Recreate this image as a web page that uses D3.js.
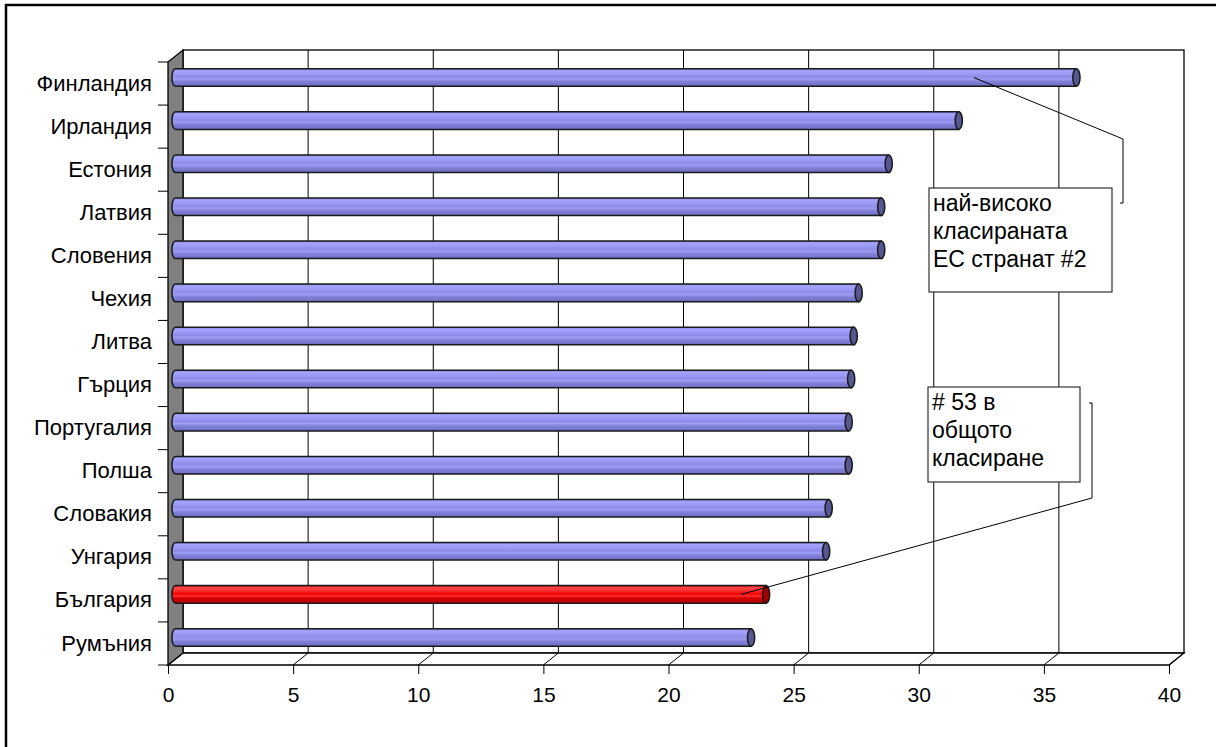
<!DOCTYPE html>
<html>
<head>
<meta charset="utf-8">
<script src="https://cdn.jsdelivr.net/npm/d3@7"></script>
<style>
  html, body { margin: 0; padding: 0; background: #fff; }
  svg { display: block; font-family: "Liberation Sans", Arial, sans-serif; }
</style>
</head>
<body>
<svg id="chart" width="1216" height="747"></svg>
<script>
// Countries, top to bottom
const countries = ["Финландия", "Ирландия", "Естония", "Латвия", "Словения", "Чехия", "Литва",
  "Гърция", "Португалия", "Полша", "Словакия", "Унгария", "България", "Румъния"];
// Score per country
const scores = [36.0, 31.3, 28.5, 28.2, 28.2, 27.3, 27.1, 27.0, 26.9, 26.9, 26.1, 26.0, 23.6, 23.0];
// Highlighted country
const highlight = ["България"];
// Axis ticks
const xTicks = [0, 5, 10, 15, 20, 25, 30, 35, 40];
// Callout texts
const noteTop = ["най-високо", "класираната", "ЕС странат #2"];
const noteBottom = ["# 53 в", "общото", "класиране"];

const svg = d3.select("#chart");

// Layout of the 3D box: front plane plus a depth offset
const depthX = 15, depthY = -12;
const frontTop = 62, frontBottom = 665;
const x = d3.scaleLinear().domain([0, 40]).range([168, 1169]);
const y = d3.scaleBand().domain(countries).range([frontTop, frontBottom]);
const x0 = x(0), x40 = x(40);

// Outer chart frame (only top and left edges fall inside the page)
svg.append("rect").attr("x", 6).attr("y", 5).attr("width", 1300).attr("height", 800)
  .attr("fill", "#fff").attr("stroke", "#000").attr("stroke-width", 2.5);

// Back wall
svg.append("rect")
  .attr("x", x0 + depthX).attr("y", frontTop + depthY)
  .attr("width", x40 - x0).attr("height", frontBottom - frontTop)
  .attr("fill", "#fff").attr("stroke", "#000").attr("stroke-width", 1.3);

// Gridlines on the back wall
svg.append("g").selectAll("line").data(xTicks.slice(1, -1)).join("line")
  .attr("x1", d => x(d) + depthX).attr("x2", d => x(d) + depthX)
  .attr("y1", frontTop + depthY).attr("y2", frontBottom + depthY)
  .attr("stroke", "#000").attr("stroke-width", 1);

// Floor
const floor = svg.append("g");
floor.append("path")
  .attr("d", `M${x0},${frontBottom} L${x0 + depthX},${frontBottom + depthY} L${x40 + depthX},${frontBottom + depthY} L${x40},${frontBottom} Z`)
  .attr("fill", "#fff").attr("stroke", "#000").attr("stroke-width", 1.3);
floor.selectAll("line.depth").data(xTicks).join("line").attr("class", "depth")
  .attr("x1", d => x(d)).attr("y1", frontBottom)
  .attr("x2", d => x(d) + depthX).attr("y2", frontBottom + depthY)
  .attr("stroke", "#000").attr("stroke-width", 1);

// Left side wall (gray)
svg.append("path")
  .attr("d", `M${x0},${frontTop} L${x0 + depthX},${frontTop + depthY} L${x0 + depthX},${frontBottom + depthY} L${x0},${frontBottom} Z`)
  .attr("fill", "#808080").attr("stroke", "#000").attr("stroke-width", 1.3);

// X axis along the front edge of the floor
const xAxis = d3.axisBottom(x).tickValues(xTicks).tickSize(9).tickPadding(13).tickFormat(d3.format("d"));
const gx = svg.append("g").attr("transform", `translate(0,${frontBottom})`).call(xAxis);
gx.select(".domain").remove();
gx.selectAll(".tick line").attr("stroke", "#000");
gx.selectAll(".tick text").attr("font-size", 21).attr("font-family", "Liberation Sans, Arial, sans-serif").attr("fill", "#000");

// Y axis on the front edge of the side wall
const yAxis = d3.axisLeft(y).tickSize(0).tickPadding(16);
const gy = svg.append("g").attr("transform", `translate(${x0},0)`).call(yAxis);
gy.select(".domain").remove();
gy.selectAll(".tick text").attr("font-size", 22).attr("font-family", "Liberation Sans, Arial, sans-serif").attr("fill", "#000");
// Ticks between categories
const bounds = countries.map(c => y(c)).concat([frontBottom]);
svg.append("g").selectAll("line").data(bounds).join("line")
  .attr("x1", x0 - 10).attr("x2", x0).attr("y1", d => d).attr("y2", d => d)
  .attr("stroke", "#000").attr("stroke-width", 1);

// Cylinder shading
const defs = svg.append("defs");
function cylGrad(id, stops) {
  const g = defs.append("linearGradient").attr("id", id).attr("x1", 0).attr("y1", 0).attr("x2", 0).attr("y2", 1);
  stops.forEach(([o, c]) => g.append("stop").attr("offset", o).attr("stop-color", c));
}
cylGrad("blueCyl", [[0, "#8282dc"], [0.12, "#a4a4ff"], [0.3, "#9a9af6"], [0.48, "#8c8ce6"], [0.58, "#9e9ef4"], [0.72, "#8282da"], [1, "#6c6cc2"]]);
cylGrad("redCyl", [[0, "#d80000"], [0.12, "#ff4a4a"], [0.3, "#ff2a2a"], [0.48, "#ee0000"], [0.58, "#ff3030"], [0.72, "#d40000"], [1, "#b40000"]]);

const bars = countries.map((c, i) => ({ name: c, value: scores[i], hi: highlight.includes(c) }));
const r = 8.8, capRx = 3.6;
const barG = svg.append("g");
bars.forEach(d => {
  const cy = y(d.name) + y.bandwidth() / 2 + depthY / 2;
  const xl = x(0) + depthX / 2, xr = x(d.value) + depthX / 2;
  barG.append("path")
    .attr("d", `M${xl},${cy - r} L${xr},${cy - r} L${xr},${cy + r} L${xl},${cy + r} A${capRx},${r} 0 0 1 ${xl},${cy - r} Z`)
    .attr("fill", d.hi ? "url(#redCyl)" : "url(#blueCyl)")
    .attr("stroke", "#1a1a1a").attr("stroke-width", 1.5);
  barG.append("ellipse")
    .attr("cx", xr).attr("cy", cy).attr("rx", capRx).attr("ry", r)
    .attr("fill", d.hi ? "#a00000" : "#565690")
    .attr("stroke", "#1a1a1a").attr("stroke-width", 1.5);
});

// Callouts
function callout(lines, box, anchorName, anchorValue, elbowX, elbowY, endY) {
  const g = svg.append("g");
  const ay = y(anchorName) + y.bandwidth() / 2 + depthY / 2;
  const ax = x(anchorValue) + depthX / 2;
  g.append("path")
    .attr("d", `M${ax},${ay} L${elbowX},${elbowY} L${elbowX},${endY} L${elbowX - 3},${endY}`)
    .attr("fill", "none").attr("stroke", "#000").attr("stroke-width", 1);
  g.append("rect").attr("x", box.x).attr("y", box.y).attr("width", box.w).attr("height", box.h)
    .attr("fill", "#fff").attr("stroke", "#333").attr("stroke-width", 1.2);
  g.selectAll("text").data(lines).join("text")
    .attr("x", box.x + 4).attr("y", (t, i) => box.y + box.first + i * 28.4)
    .attr("font-size", 23).attr("fill", "#000").text(t => t);
}
callout(noteTop, { x: 929, y: 188, w: 183, h: 104, first: 22.5 }, "Финландия", 31.9, 1123, 139, 203);
callout(noteBottom, { x: 928, y: 387, w: 152, h: 95, first: 22.5 }, "България", 22.6, 1092, 498, 403);
</script>
</body>
</html>
